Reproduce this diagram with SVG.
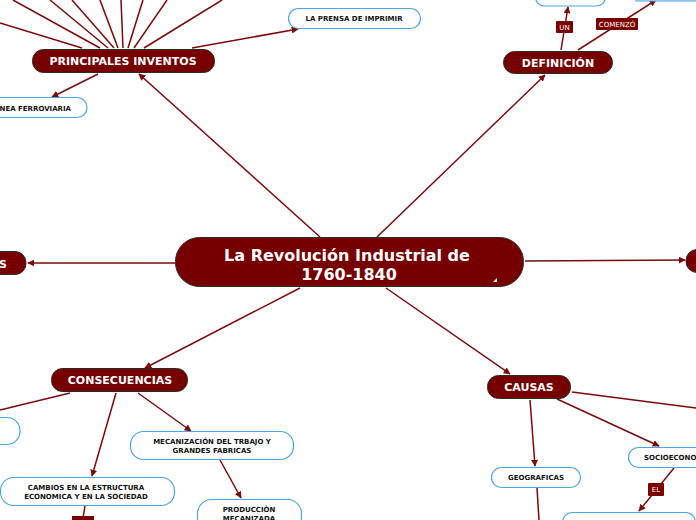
<svg xmlns="http://www.w3.org/2000/svg" width="696" height="520" viewBox="0 0 696 520">
<defs>
<marker id="ah" viewBox="0 0 10 10" refX="9" refY="5" markerWidth="7" markerHeight="7" markerUnits="userSpaceOnUse" orient="auto"><path d="M0,0 L10,5 L0,10 z" fill="#7a0a0a"/></marker>
</defs>
<style>
.c{stroke:#7a0a0a;stroke-width:1.5;fill:none}
.a{marker-end:url(#ah)}
.m{fill:#760000;stroke:#2a2a2a;stroke-width:1}
.w{fill:#fff;stroke:#4ba6e2;stroke-width:1.2}
.mt{fill:#fff;font-family:"DejaVu Sans",Verdana,sans-serif;font-weight:bold;text-anchor:middle}
.wt{fill:#111;font-family:"DejaVu Sans",Verdana,sans-serif;font-weight:bold;text-anchor:middle;font-size:7px}
.lb{fill:#7a0000}
.lt{fill:#fff;font-family:"DejaVu Sans",Verdana,sans-serif;font-size:7px;text-anchor:middle}
</style>
<rect width="696" height="520" fill="#fff"/>
<g id="connectors">
<line class="c" x1="0" y1="23" x2="82" y2="48"/>
<line class="c" x1="13" y1="0" x2="100" y2="48"/>
<line class="c" x1="50" y1="0" x2="108" y2="48"/>
<line class="c" x1="72" y1="0" x2="114" y2="48"/>
<line class="c" x1="100" y1="0" x2="118" y2="48"/>
<line class="c" x1="121" y1="0" x2="123" y2="48"/>
<line class="c" x1="143" y1="0" x2="128" y2="48"/>
<line class="c" x1="167" y1="0" x2="134" y2="48"/>
<line class="c" x1="222" y1="0" x2="144" y2="48"/>
<line class="c a" x1="192" y1="48" x2="298" y2="29"/>
<line class="c a" x1="98" y1="74" x2="52" y2="97"/>
<line class="c a" x1="320" y1="237" x2="139" y2="74"/>
<line class="c a" x1="377" y1="237" x2="545" y2="75"/>
<line class="c a" x1="561" y1="50" x2="568" y2="7"/>
<line class="c a" x1="578" y1="50" x2="656" y2="0"/>
<line class="c a" x1="175" y1="263" x2="28" y2="263"/>
<line class="c a" x1="525" y1="261" x2="685" y2="260"/>
<line class="c a" x1="300" y1="288" x2="145" y2="368"/>
<line class="c" x1="70" y1="393" x2="0" y2="410"/>
<line class="c a" x1="116" y1="393" x2="92" y2="476"/>
<line class="c a" x1="138" y1="393" x2="191" y2="431"/>
<line class="c a" x1="220" y1="460" x2="241" y2="498"/>
<line class="c" x1="85" y1="506" x2="83" y2="518"/>
<line class="c a" x1="386" y1="288" x2="510" y2="374"/>
<line class="c" x1="572" y1="392" x2="696" y2="408"/>
<line class="c a" x1="530" y1="400" x2="535" y2="466"/>
<line class="c" x1="537" y1="488" x2="539" y2="520"/>
<line class="c a" x1="557" y1="399" x2="659" y2="446"/>
<line class="c a" x1="674" y1="468" x2="639" y2="511"/>
<rect class="lb" x="556" y="21" width="17" height="12" rx="1"/>
<text class="lt" x="564.5" y="30">UN</text>
<rect class="lb" x="596" y="18" width="42" height="12" rx="1"/>
<text class="lt" x="617" y="27">COMENZÓ</text>
<rect class="lb" x="648" y="483" width="16" height="13" rx="1"/>
<text class="lt" x="656" y="492">EL</text>
<rect class="lb" x="72" y="516" width="22" height="6"/>
</g>
<g id="central">
<rect class="m" x="175.5" y="237.5" width="348" height="49" rx="24"/>
<text class="mt" x="347" y="261" font-size="16">La Revolución Industrial de</text>
<text class="mt" x="349" y="280" font-size="16">1760-1840</text>
<path d="M493,282 L497,278 L497,282 z" fill="#fff"/>
</g>
<g id="principales">
<rect class="m" x="32.5" y="49.5" width="182" height="23" rx="11"/>
<text class="mt" x="123" y="65" font-size="11">PRINCIPALES INVENTOS</text>
</g>
<g id="prensa">
<rect class="w" x="288.5" y="8.5" width="132" height="20" rx="10"/>
<text class="wt" x="354" y="21">LA PRENSA DE IMPRIMIR</text>
</g>
<g id="ferroviaria">
<rect class="w" x="-40" y="97.5" width="127" height="20" rx="10"/>
<text class="wt" x="71" y="111" text-anchor="end" style="text-anchor:end">NEA FERROVIARIA</text>
</g>
<g id="definicion">
<rect class="m" x="503.5" y="51.5" width="109" height="22" rx="11"/>
<text class="mt" x="558" y="67" font-size="11">DEFINICIÓN</text>
</g>
<g id="def-un">
<rect class="w" x="535.5" y="-12" width="70" height="18" rx="9"/>
</g>
<g id="def-comenzo">
<rect x="636" y="-10" width="70" height="11" fill="#cfe8f8" stroke="#4ba6e2"/>
</g>
<g id="left-node">
<rect class="m" x="-30" y="251.5" width="56" height="23" rx="11"/>
<text class="mt" x="3" y="268" font-size="11">S</text>
</g>
<g id="right-node">
<rect class="m" x="686" y="249.5" width="60" height="23" rx="11"/>
</g>
<g id="consecuencias">
<rect class="m" x="51.5" y="368.5" width="136" height="23" rx="11"/>
<text class="mt" x="120" y="384" font-size="11">CONSECUENCIAS</text>
</g>
<g id="cons-left">
<rect class="w" x="-40" y="417.5" width="60" height="27" rx="13"/>
</g>
<g id="cambios">
<rect class="w" x="0.5" y="477.5" width="174" height="28" rx="13"/>
<text class="wt" x="86" y="490">CAMBIOS EN LA ESTRUCTURA</text>
<text class="wt" x="86" y="499">ECONOMICA Y EN LA SOCIEDAD</text>
</g>
<g id="mecanizacion">
<rect class="w" x="130.5" y="431.5" width="163" height="28" rx="13"/>
<text class="wt" x="212" y="444">MECANIZACIÓN DEL TRBAJO Y</text>
<text class="wt" x="212" y="453">GRANDES FABRICAS</text>
</g>
<g id="produccion">
<rect class="w" x="197.5" y="499.5" width="104" height="32" rx="14"/>
<text class="wt" x="249" y="512">PRODUCCIÒN</text>
<text class="wt" x="249" y="521">MECANIZADA</text>
</g>
<g id="causas">
<rect class="m" x="487.5" y="375.5" width="83" height="23" rx="11"/>
<text class="mt" x="529" y="391" font-size="11">CAUSAS</text>
</g>
<g id="geograficas">
<rect class="w" x="491.5" y="467.5" width="89" height="20" rx="10"/>
<text class="wt" x="536" y="480">GEOGRAFICAS</text>
</g>
<g id="socioeconomicas">
<rect class="w" x="628.5" y="447.5" width="90" height="20" rx="10"/>
<text class="wt" x="644" y="460" style="text-anchor:start">SOCIOECONOMICAS</text>
</g>
<g id="socio-el">
<rect class="w" x="562.5" y="512.5" width="133" height="20" rx="10"/>
</g>
</svg>
